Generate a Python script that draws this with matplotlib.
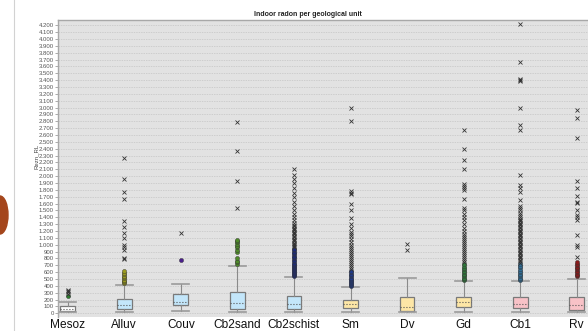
import matplotlib.pyplot as plt
from matplotlib.patches import Ellipse
from matplotlib.lines import Line2D

# geological units and box statistics (Bq/m3)
units = ["Mesoz", "Alluv", "Couv", "Cb2sand", "Cb2schist", "Sm", "Dv", "Gd", "Cb1", "Rv"]
q1 = [30, 67, 117, 67, 67, 73, 38, 87, 73, 48]
median = [67, 117, 165, 146, 136, 131, 87, 160, 131, 125]
q3 = [106, 204, 280, 306, 248, 194, 233, 233, 233, 233]
whisker_lo = [20, 15, 35, 15, 15, 19, 15, 15, 15, 15]
whisker_hi = [170, 417, 423, 690, 525, 388, 510, 476, 476, 505]

# outliers (circles) and extreme values (stars)
mild = {
    "Mesoz": [250],
    "Alluv": [440, 452, 470, 490, 510, 530, 550, 570, 590, 610],
    "Couv": [780],
    "Cb2sand": [720, 745, 760, 800, 900, 930, 960, 985, 1010, 1035, 1055, 1070],
    "Cb2schist": [540, 555, 570, 585, 600, 615, 630, 645, 660, 675, 690, 705, 720,
                  740, 760, 780, 800, 820, 840, 860, 880, 900, 920, 940],
    "Sm": [400, 415, 430, 445, 460, 475, 490, 505, 520, 540, 560, 580, 600, 620],
    "Dv": [],
    "Gd": [490, 505, 520, 540, 560, 580, 600, 620, 640, 660, 690, 720],
    "Cb1": [490, 505, 520, 540, 560, 580, 600, 620, 645, 670, 695, 720],
    "Rv": [545, 560, 580, 600, 620, 640, 660, 680, 700, 720, 745],
}
extreme = {
    "Mesoz": [285, 305, 325, 345],
    "Alluv": [790, 800, 925, 960, 990, 1095, 1175, 1260, 1345, 1660, 1765, 1960, 2270],
    "Couv": [1165],
    "Cb2sand": [1530, 1930, 2360, 2790],
    "Cb2schist": [960, 975, 990, 1010, 1030, 1050, 1070, 1090, 1110, 1130, 1150, 1170,
                  1190, 1210, 1230, 1250, 1270, 1290, 1310, 1360, 1410, 1450, 1500,
                  1560, 1620, 1700, 1760, 1820, 1900, 1960, 2020, 2100],
    "Sm": [650, 680, 700, 730, 760, 790, 820, 850, 880, 910, 940, 970, 1000, 1040,
           1080, 1120, 1150, 1190, 1240, 1300, 1390, 1500, 1600, 1740, 1760, 1780,
           2810, 3000],
    "Dv": [920, 1010],
    "Gd": [750, 780, 806, 830, 860, 890, 920, 950, 980, 1010, 1040, 1070, 1100, 1130,
           1160, 1200, 1243, 1300, 1360, 1400, 1450, 1500, 1535, 1666, 1800, 1830,
           1860, 1880, 2100, 2235, 2390, 2672],
    "Cb1": [740, 760, 780, 800, 820, 840, 860, 880, 900, 920, 940, 960, 980, 1000,
            1020, 1040, 1060, 1080, 1100, 1120, 1140, 1160, 1180, 1200, 1220, 1240,
            1260, 1280, 1300, 1320, 1340, 1360, 1380, 1400, 1430, 1460, 1500, 1530,
            1560, 1652, 1773, 1820, 1870, 2016, 2670, 2745, 2990, 3390, 3400, 3410,
            3663, 4220],
    "Rv": [825, 971, 996, 1141, 1360, 1400, 1433, 1506, 1603, 1627, 1710, 1822, 1929,
           2551, 2850, 2965],
}

box_colors = ["#ffffff", "#c3e6fa", "#c3e6fa", "#c3e6fa", "#c3e6fa",
              "#fde6a6", "#fde6a6", "#fde6a6", "#f8c2c7", "#f8c2c7"]
dot_colors = ["#2e7d2e", "#9a9a1e", "#4b1f8c", "#4f8a2a", "#1b2a7a",
              "#1f3a8a", "#555555", "#2e7a3a", "#2f6f9a", "#8a1a1a"]

plt.rcParams['font.family'] = ['Liberation Sans', 'DejaVu Sans']

fig = plt.figure(figsize=(5.88, 3.31), dpi=100)
ax = fig.add_axes([58 / 588, 14 / 331, 530 / 588, 297 / 331])
ax.set_facecolor("#e2e2e2")

stats = []
for i, u in enumerate(units):
    stats.append({"label": u, "med": median[i], "q1": q1[i], "q3": q3[i],
                  "whislo": whisker_lo[i], "whishi": whisker_hi[i], "fliers": []})

pos = list(range(len(units)))
bp = ax.bxp(stats, positions=pos, widths=0.26, patch_artist=True, showfliers=False,
            boxprops=dict(edgecolor="#7a7a7a", linewidth=0.9),
            whiskerprops=dict(color="#8a8a8a", linewidth=0.8),
            capprops=dict(color="#9a9a9a", linewidth=1.2),
            medianprops=dict(color="#555555", linewidth=0.8, linestyle=":"),
            capwidths=0.3)
for patch, c in zip(bp["boxes"], box_colors):
    patch.set_facecolor(c)

for i, u in enumerate(units):
    if mild[u]:
        ax.plot([i] * len(mild[u]), mild[u], "o", ms=3.0, color=dot_colors[i],
                mec="#333333", mew=0.3, zorder=4)
    if extreme[u]:
        ax.plot([i] * len(extreme[u]), extreme[u], "x", ms=2.2, color="#333333",
                mew=0.6, zorder=4)

ax.set_xlim(-0.1715, 9.199)
ax.set_ylim(-54, 4276)
ticks = list(range(0, 4201, 100))
ax.set_yticks(ticks)
ax.set_yticklabels([f"{t:,}".replace(",", ".") for t in ticks], fontsize=4.3, color="#555555")
ax.tick_params(axis="y", length=2, width=0.5, color="#888888", pad=1)
ax.set_xticks(pos)
ax.set_xticklabels(units, fontsize=8.6, color="#111111")
ax.tick_params(axis="x", length=0, pad=1.5)
ax.yaxis.grid(True, color="#c4c4c4", linestyle=(0, (2, 1.5)), linewidth=0.5)
ax.set_axisbelow(True)

for side in ["right", "bottom"]:
    ax.spines[side].set_visible(False)
for side in ["left", "top"]:
    ax.spines[side].set_color("#a8a8a8")
    ax.spines[side].set_linewidth(1.0)

ax.set_ylabel("Rezn_RL", fontsize=4.3, color="#444444", labelpad=3)
ax.yaxis.set_label_coords(-0.037, 0.54)

fig.text(308 / 588, 1 - 15 / 331, "Indoor radon per geological unit", fontsize=5,
         fontweight="bold", ha="center", va="center", color="#222222")

# left side page decoration
fig.add_artist(Line2D([14 / 588, 14 / 588], [0, 1], color="#d2d2d2", linewidth=0.8))
fig.add_artist(Ellipse((0.0, 1 - 215 / 331), 16 / 588, 38 / 331, color="#a4461c"))

fig.savefig("out.png", dpi=100)
